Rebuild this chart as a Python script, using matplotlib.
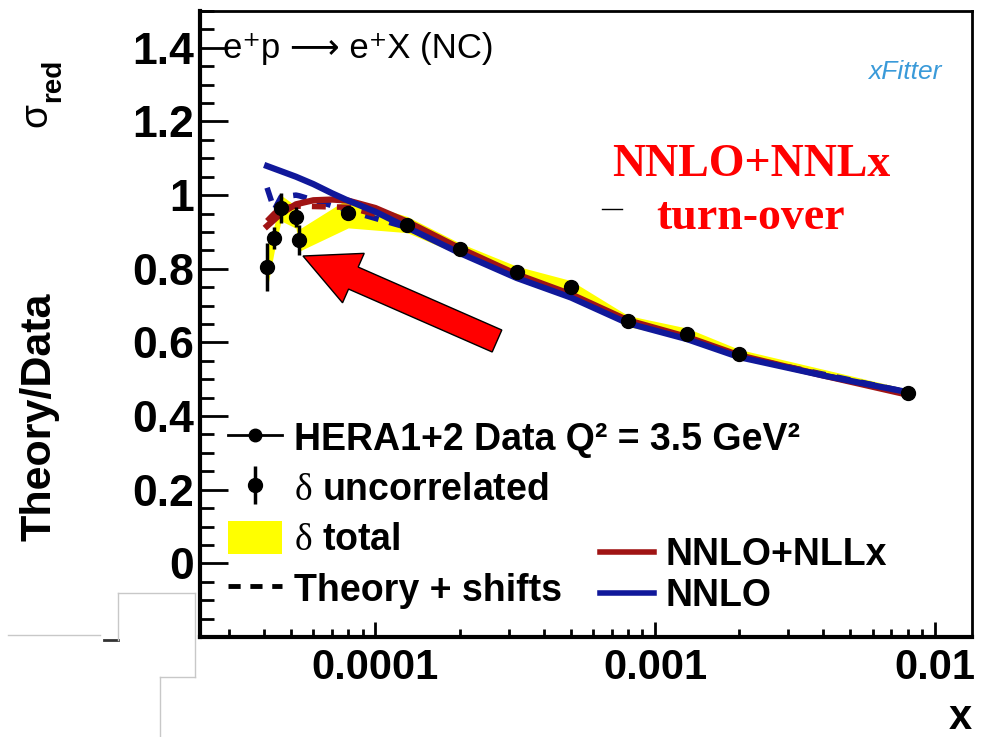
import numpy as np
import matplotlib
matplotlib.use('Agg')
import matplotlib.pyplot as plt
from matplotlib.lines import Line2D
from matplotlib.patches import Patch, Polygon
from matplotlib.ticker import MultipleLocator, FixedLocator, LogLocator, FuncFormatter, NullFormatter

plt.rcParams['font.family'] = ['Liberation Sans', 'DejaVu Sans']
plt.rcParams['mathtext.fontset'] = 'custom'
plt.rcParams['mathtext.rm'] = 'Liberation Serif'

# HERA1+2 data, Q^2 = 3.5 GeV^2
x_data = [4.1e-5, 4.35e-5, 4.6e-5, 5.2e-5, 5.35e-5, 8.0e-5, 1.3e-4,
          2.0e-4, 3.2e-4, 5.0e-4, 8.0e-4, 1.3e-3, 2.0e-3, 8.0e-3]
sigma = [0.804, 0.883, 0.965, 0.940, 0.878, 0.951, 0.920,
         0.854, 0.791, 0.750, 0.658, 0.624, 0.569, 0.463]
d_unc = [0.065, 0.030, 0.040, 0.027, 0.040, 0.012, 0.010,
         0.010, 0.010, 0.010, 0.010, 0.010, 0.010, 0.008]
d_tot = [0.060, 0.035, 0.035, 0.030, 0.030, 0.040, 0.022,
         0.016, 0.016, 0.018, 0.015, 0.015, 0.012, 0.010]

# theory + shifts at the data points
shift_nnlo = [1.020, 0.960, 0.995, 1.000, 0.998, 0.958, 0.912,
              0.846, 0.776, 0.724, 0.654, 0.611, 0.562, 0.465]
shift_nllx = [0.930, 0.950, 0.965, 0.970, 0.970, 0.967, 0.925,
              0.852, 0.782, 0.728, 0.657, 0.612, 0.562, 0.460]

# theory curves
x_th = [4.1e-5, 4.6e-5, 5.2e-5, 6e-5, 7e-5, 8e-5, 1e-4, 1.3e-4,
        2e-4, 3.2e-4, 5e-4, 8e-4, 1.3e-3, 2e-3, 4e-3, 8e-3]
nnlo = [1.079, 1.065, 1.050, 1.030, 1.005, 0.985, 0.955, 0.912,
        0.843, 0.775, 0.722, 0.652, 0.609, 0.560, 0.510, 0.465]
nllx = [0.916, 0.950, 0.975, 0.986, 0.988, 0.985, 0.965, 0.928,
        0.856, 0.785, 0.731, 0.660, 0.615, 0.565, 0.510, 0.458]

W, H = 984, 737
def fp(px, py):
    return px / W, 1 - py / H

fig = plt.figure(figsize=(9.84, 7.37), dpi=100)
ax = fig.add_axes([200/W, 1-637/H, 772/W, 626/H])

xd = np.array(x_data); sd = np.array(sigma); dt = np.array(d_tot)
ax.fill_between(xd, sd - dt, sd + dt, color='#ffff00', lw=0, zorder=1)
ax.plot(x_data, shift_nnlo, color='#10189a', lw=4, ls=(0, (2.5, 2)), zorder=2)
ax.plot(x_data, shift_nllx, color='#a01414', lw=4, ls=(0, (2.5, 2)), zorder=2)
ax.plot(x_th, nllx, color='#a01414', lw=4.5, zorder=3)
ax.plot(x_th, nnlo, color='#10189a', lw=4.5, zorder=3)
eb = ax.errorbar(x_data, sigma, yerr=d_unc, fmt='o', color='k', ms=10,
                 elinewidth=2.5, capsize=0, zorder=5)

ax.set_xscale('log')
ax.set_xlim(2.36e-5, 0.0136)
ax.set_ylim(-0.2, 1.5)

ax.xaxis.set_major_locator(FixedLocator([1e-4, 1e-3, 1e-2]))
ax.xaxis.set_minor_locator(LogLocator(base=10, subs=np.arange(2, 10)))
ax.xaxis.set_major_formatter(FuncFormatter(lambda v, p: '%g' % v))
ax.xaxis.set_minor_formatter(NullFormatter())
ax.yaxis.set_major_locator(FixedLocator([0, 0.2, 0.4, 0.6, 0.8, 1.0, 1.2, 1.4]))
ax.yaxis.set_minor_locator(MultipleLocator(0.05))
ax.yaxis.set_major_formatter(FuncFormatter(lambda v, p: '%g' % round(v, 1)))

ax.tick_params(axis='y', which='major', direction='in', length=20, width=2,
               labelsize=32, pad=4)
ax.tick_params(axis='y', which='minor', direction='in', length=10, width=2)
ax.tick_params(axis='x', which='major', direction='in', length=11, width=2,
               labelsize=30, pad=8)
ax.tick_params(axis='x', which='minor', direction='in', length=6, width=2)
for lab in ax.get_xticklabels() + ax.get_yticklabels():
    lab.set_fontweight('bold')

ax.spines['left'].set_linewidth(3)
ax.spines['bottom'].set_linewidth(3)
ax.spines['top'].set_linewidth(2)
ax.spines['right'].set_linewidth(2)

# legends
h_data = Line2D([], [], color='k', marker='o', ms=9, lw=2)
h_tot = Patch(facecolor='#ffff00', edgecolor='none')
h_shift = Line2D([], [], color='k', lw=3.5, ls=(0, (2.5, 2)))
leg1 = ax.legend([h_data, eb, h_tot, h_shift],
                 ['HERA1+2 Data Q² = 3.5 GeV²', r'$\mathrm{\delta}$ uncorrelated',
                  r'$\mathrm{\delta}$ total', 'Theory + shifts'],
                 loc='upper left', bbox_to_anchor=fp(228, 420), bbox_transform=fig.transFigure,
                 frameon=False, borderpad=0, borderaxespad=0, handlelength=1.45,
                 handleheight=1.0, handletextpad=0.3, labelspacing=0.34,
                 prop=dict(weight='bold', size=27))
ax.add_artist(leg1)
h_red = Line2D([], [], color='#a01414', lw=4)
h_blue = Line2D([], [], color='#10189a', lw=4)
ax.legend([h_red, h_blue], ['NNLO+NLLx', 'NNLO'],
          loc='upper left', bbox_to_anchor=fp(600, 537), bbox_transform=fig.transFigure,
          frameon=False, borderpad=0, borderaxespad=0, handlelength=1.45,
          handletextpad=0.3, labelspacing=0.13, prop=dict(weight='bold', size=27))

# texts
ax.text(0.03, 0.94, 'e⁺p ⟶ e⁺X (NC)', transform=ax.transAxes, fontsize=25,
        va='center', ha='left')
fig.text(*fp(751, 165), 'NNLO+NNLx', color='red', family='Liberation Serif',
         weight='bold', fontsize=33, ha='center', va='center')
fig.text(*fp(751, 218), 'turn-over', color='red', family='Liberation Serif',
         weight='bold', fontsize=33, ha='center', va='center')
fig.text(*fp(905, 72), 'xFitter', color='#3a9ad9', style='italic', fontsize=19,
         ha='center', va='center')
fig.text(*fp(40, 417), 'Theory/Data', rotation=90, weight='bold', fontsize=31,
         ha='center', va='center')
fig.text(*fp(36, 115), 'σ', rotation=90, fontsize=28, ha='center', va='center')
fig.text(*fp(53, 80), 'red', rotation=90, weight='bold', fontsize=20,
         ha='center', va='center')
fig.text(*fp(972, 718), 'x', weight='bold', fontsize=30, ha='right', va='center')

# red arrow
tip = np.array([303.0, 256.0]); tail = np.array([497.0, 341.0])
u = (tip - tail) / np.hypot(*(tip - tail)); n = np.array([-u[1], u[0]])
hl, hw, sw = 55.0, 27.0, 12.0
base = tip - u * hl
pts = [tip, base + n * hw, base + n * sw, tail + n * sw, tail - n * sw,
       base - n * sw, base - n * hw]
fig.add_artist(Polygon([fp(*p) for p in pts], closed=True, facecolor='#ff0000',
                       edgecolor='k', lw=1, transform=fig.transFigure, zorder=10))

# stray marks on the slide
def seg(p0, p1, c='#c8c8c8', lw=1):
    fig.add_artist(Line2D([p0[0]/W, p1[0]/W], [1-p0[1]/H, 1-p1[1]/H],
                          color=c, lw=lw, transform=fig.transFigure))
seg((8, 635), (100, 635))
seg((104, 640), (118, 640), c='#333333', lw=2)
seg((118, 640), (118, 593))
seg((118, 593), (195, 593))
seg((195, 593), (195, 677))
seg((195, 677), (160, 677))
seg((160, 677), (160, 737))
seg((602, 209), (622, 209), c='k', lw=1)

fig.savefig('out.png', dpi=100)
